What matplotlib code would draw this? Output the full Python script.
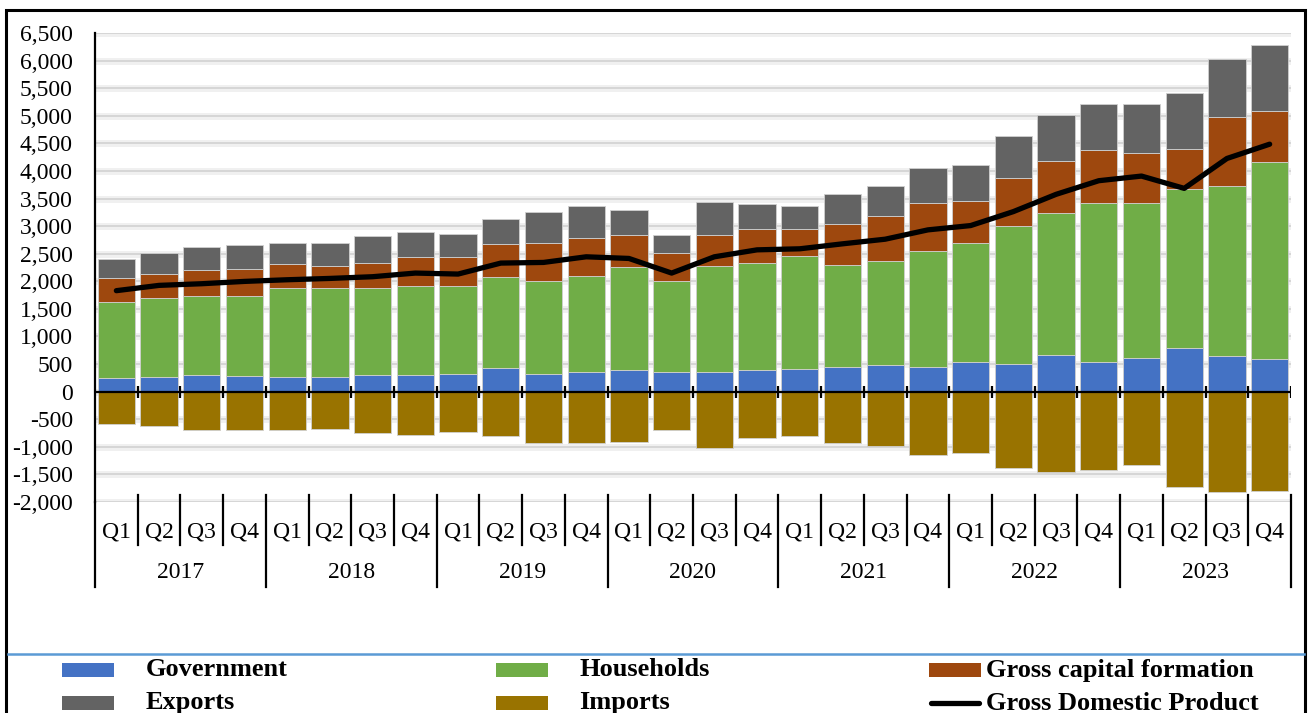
import numpy as np
import matplotlib
matplotlib.use('Agg')
import matplotlib.pyplot as plt
from matplotlib.patches import Rectangle
from matplotlib.lines import Line2D
from matplotlib.transforms import blended_transform_factory
from matplotlib.ticker import FuncFormatter

plt.rcParams['font.family'] = ['Liberation Serif', 'DejaVu Serif']

years = ['2017', '2018', '2019', '2020', '2021', '2022', '2023']
quarters = ['Q1', 'Q2', 'Q3', 'Q4']

government = [250, 270, 295, 280, 270, 270, 305, 305, 325, 420, 325, 350, 385, 360,
              360, 395, 410, 450, 490, 450, 540, 505, 670, 540, 615, 790, 645, 595]
households = [1370, 1430, 1440, 1455, 1600, 1600, 1565, 1605, 1585, 1650, 1685, 1740, 1875, 1650,
              1910, 1945, 2040, 1850, 1880, 2100, 2145, 2505, 2575, 2880, 2795, 2890, 3090, 3560]
gross_capital = [440, 433, 469, 493, 440, 404, 458, 536, 524, 602, 686, 692, 583, 505,
                 571, 608, 500, 746, 813, 867, 765, 867, 933, 958, 909, 711, 1235, 939]
exports = [350, 385, 410, 422, 391, 427, 487, 446, 428, 457, 566, 584, 458, 325,
           602, 446, 421, 530, 547, 632, 650, 758, 831, 836, 891, 1030, 1059, 1180]
imports = [-590, -626, -692, -692, -704, -668, -758, -783, -728, -800, -927, -933, -921, -698,
           -1017, -849, -807, -933, -993, -1144, -1108, -1379, -1451, -1415, -1330, -1734, -1812, -1794]
gdp = [1830, 1926, 1956, 1998, 2028, 2052, 2083, 2149, 2131, 2330, 2342, 2444, 2414, 2149,
       2444, 2570, 2589, 2679, 2763, 2932, 3010, 3263, 3576, 3823, 3907, 3684, 4226, 4485]

c_gov = '#4472C4'
c_hh = '#70AD47'
c_gcf = '#9E480E'
c_exp = '#636363'
c_imp = '#997300'

W, H = 1313, 713
fig = plt.figure(figsize=(W / 100, H / 100), dpi=100)
ax = fig.add_axes([95 / W, 1 - 502 / H, (1291 - 95) / W, (502 - 33) / H])

n = len(gdp)
x = np.arange(n)
gov = np.array(government)
hh = np.array(households)
gcf = np.array(gross_capital)
exp_ = np.array(exports)

# grid with a soft shadow, like the original
for v in range(-2000, 6501, 500):
    ax.axhline(v, color='#f0f0f0', lw=5, zorder=0)
    ax.axhline(v, color='#d4d4d4', lw=1.3, zorder=0.5)

bw = 0.87
ekw = dict(edgecolor='#d0d0d0', linewidth=0.6, zorder=2)
ax.bar(x, gov, bw, color=c_gov, **ekw)
ax.bar(x, hh, bw, bottom=gov, color=c_hh, **ekw)
ax.bar(x, gcf, bw, bottom=gov + hh, color=c_gcf, **ekw)
ax.bar(x, exp_, bw, bottom=gov + hh + gcf, color=c_exp, **ekw)
ax.bar(x, imports, bw, color=c_imp, **ekw)
ax.plot(x, gdp, color='black', lw=3.8, solid_capstyle='round', solid_joinstyle='round', zorder=4)

ax.axhline(0, color='black', lw=1.6, zorder=3)
bounds = np.arange(n + 1) - 0.5
ax.vlines(bounds[1:], -110, 110, color='black', lw=1.6, zorder=3)

ax.set_xlim(-0.5, n - 0.5)
ax.set_ylim(-2000, 6500)
ax.set_yticks(range(-2000, 6501, 500))
ax.yaxis.set_major_formatter(FuncFormatter(lambda v, p: f'{int(v):,}'))
ax.tick_params(axis='y', length=0, pad=16, labelsize=17)
ax.set_xticks([])
for s in ['top', 'right', 'bottom']:
    ax.spines[s].set_visible(False)
ax.spines['left'].set_linewidth(1.6)

# two-level category axis under the plot
tr = blended_transform_factory(ax.transData, ax.transAxes)
y_top = 0.015
for i, b in enumerate(bounds):
    low = -0.181 if i % 4 == 0 else -0.092
    ax.add_line(Line2D([b, b], [y_top if i else 0, low], transform=tr, color='black', lw=1.6, clip_on=False))
for i in range(n):
    ax.text(i, -0.064, quarters[i % 4], transform=tr, ha='center', va='center', fontsize=17)
for k, yr in enumerate(years):
    ax.text(4 * k + 1.5, -0.151, yr, transform=tr, ha='center', va='center', fontsize=17)

# outer frame and separator line
fig.add_artist(Rectangle((6 / W, -0.05), (1305 - 6) / W, 1 - 10 / H + 0.05,
                         transform=fig.transFigure, fill=False, edgecolor='black', lw=2.2))
fig.add_artist(Line2D([8 / W, 1304 / W], [1 - 654 / H] * 2, transform=fig.transFigure,
                      color='#5B9BD5', lw=1.8))

# legend
def fy(p):
    return 1 - p / H

items = [
    ('Government', c_gov, 62, 146, 670),
    ('Households', c_hh, 496, 579, 670),
    ('Gross capital formation', c_gcf, 929, 986, 670),
    ('Exports', c_exp, 62, 146, 703),
    ('Imports', c_imp, 496, 579, 703),
]
for label, col, px, tx, py in items:
    fig.add_artist(Rectangle((px / W, fy(py + 7)), 52 / W, 14 / H, transform=fig.transFigure,
                             facecolor=col, edgecolor='none'))
    fig.text(tx / W, fy(py), label, fontsize=19, fontweight='bold', va='center', ha='left')
fig.add_artist(Line2D([931 / W, 979 / W], [fy(703)] * 2, transform=fig.transFigure,
                      color='black', lw=3.8, solid_capstyle='round'))
fig.text(986 / W, fy(703), 'Gross Domestic Product', fontsize=19, fontweight='bold',
         va='center', ha='left')

fig.savefig('out.png', dpi=100)
